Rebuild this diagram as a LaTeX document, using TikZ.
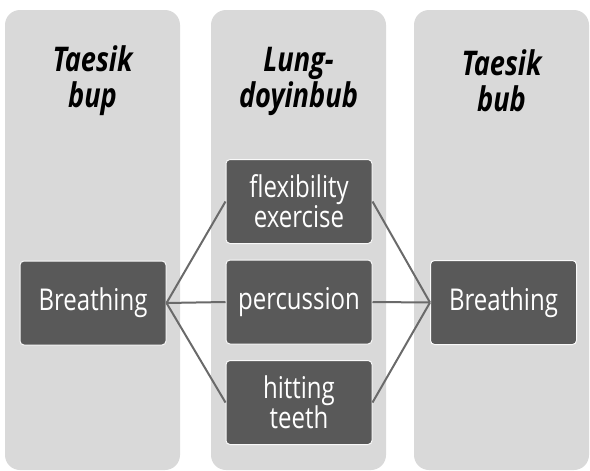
\documentclass[tikz,border=0pt]{standalone}
\usepackage{fontspec}
\setmainfont{Open Sans}[FakeStretch=0.8]
\usetikzlibrary{positioning}
\definecolor{colbg}{HTML}{D9D9D9}\definecolor{boxbg}{HTML}{595959}
\tikzset{col/.style={fill=colbg,rounded corners=7.5pt,minimum width=87.5pt,minimum height=230pt},
hd/.style={align=center,inner sep=0pt,font=\bfseries\itshape\fontsize{17}{18}\selectfont},
bx/.style={draw=white!85!colbg,line width=0.5pt,fill=boxbg,rounded corners=2pt,text=white,align=center,
minimum width=73pt,minimum height=42pt,inner sep=1pt,font=\fontsize{15}{15}\selectfont},
ln/.style={draw=boxbg!90!white,line width=1pt}}
\begin{document}
\begin{tikzpicture}[x=0.5pt,y=-0.5pt]
\useasboundingbox(0,0)rectangle(590,471);
\node[col](c1)at(92.5,240){};\node[col](c2)at(298.5,240){};\node[col](c3)at(501.5,240){};
\node[hd](h1)at(92.5,81){Taesik\\bup};\node[hd](h2)at(298.5,81){Lung-\\doyinbub};
\node[hd](h3)at(501.5,81){Taesik\\bub};
\node[bx](b1)at(93,303){Breathing};\node[bx](f)at(299,201.5){flexibility\\exercise};
\node[bx](p)at(299,302){percussion};\node[bx](t)at(299,402.5){hitting\\teeth};
\node[bx](b2)at(503.5,302.5){Breathing};
\foreach\a in{f,p,t}{\draw[ln](b1.east)--(\a.west);\draw[ln](\a.east)--(b2.west);}
\end{tikzpicture}
\end{document}
